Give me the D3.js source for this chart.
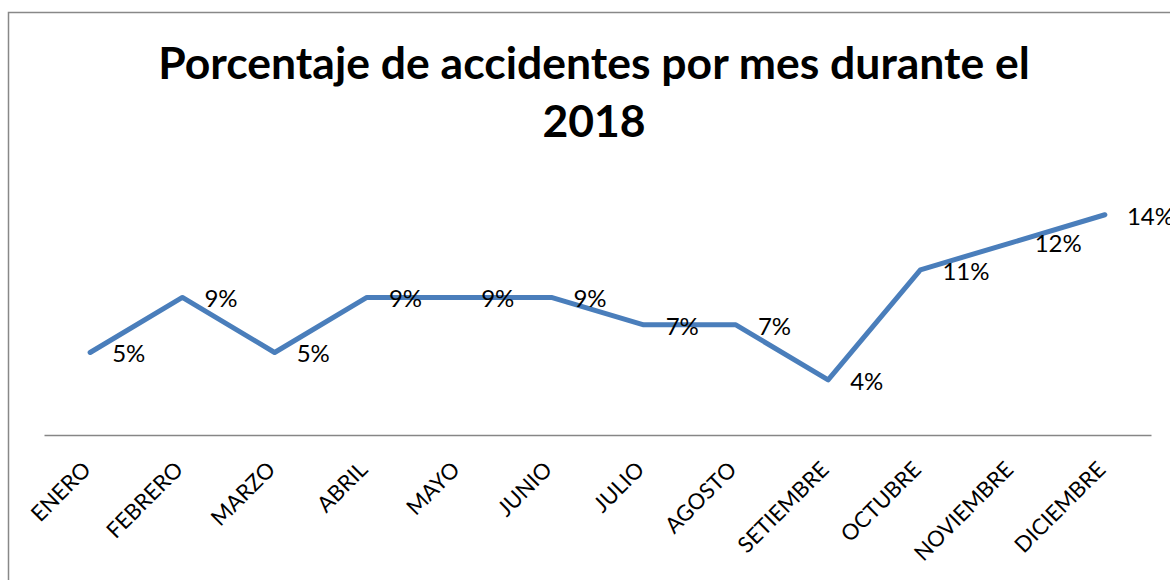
<!DOCTYPE html>
<html>
<head>
<meta charset="utf-8">
<script src="https://cdn.jsdelivr.net/npm/d3@7"></script>
<style>
  body { margin: 0; background: #fff; }
  text { font-family: Lato, "Open Sans", sans-serif; fill: #000; }
</style>
</head>
<body>
<div id="chart-area"></div>
<script>
// months and share of accidents (%)
var months = ['ENERO', 'FEBRERO', 'MARZO', 'ABRIL', 'MAYO', 'JUNIO',
              'JULIO', 'AGOSTO', 'SETIEMBRE', 'OCTUBRE', 'NOVIEMBRE', 'DICIEMBRE'];
var values = [5.26, 8.77, 5.26, 8.77, 8.77, 8.77, 7.02, 7.02, 3.51, 10.53, 12.28, 14.04];
var titleLines = ['Porcentaje de accidentes por mes durante el', '2018'];

var width = 1170, height = 580;

var svg = d3.select('#chart-area')
  .append('svg')
    .attr('width', width)
    .attr('height', height);

// chart border
svg.append('rect')
  .attr('x', 8.5).attr('y', 12.5)
  .attr('width', 1200).attr('height', 600)
  .attr('fill', 'none')
  .attr('stroke', '#888')
  .attr('stroke-width', 1.5);

var data = months.map((m, i) => ({ month: m, value: values[i] }));

let x = d3.scaleBand()
  .domain(months)
  .range([44, 1151]);

let y = d3.scaleLinear()
  .domain([0, 16])
  .range([435, 184]);

let cx = d => x(d.month) + x.bandwidth() / 2;

// title
svg.append('text')
  .attr('x', 594)
  .attr('y', 79)
  .attr('text-anchor', 'middle')
  .attr('font-size', '44.5px')
  .attr('font-weight', 'bold')
  .selectAll('tspan')
  .data(titleLines)
  .enter()
  .append('tspan')
    .attr('x', 594)
    .attr('dy', (d, i) => i ? 58 : 0)
    .text(d => d);

// category axis
let xAxis = d3.axisBottom(x).tickSize(0).tickPadding(0);
let gx = svg.append('g')
  .attr('class', 'x-axis')
  .attr('transform', 'translate(0,' + y(0) + ')')
  .call(xAxis);

gx.select('.domain')
  .attr('stroke', '#868686')
  .attr('stroke-width', 1.5);

gx.selectAll('text')
  .attr('font-size', '22px')
  .attr('font-family', 'Lato, "Open Sans", sans-serif')
  .attr('fill', '#000')
  .attr('text-anchor', 'end')
  .attr('dy', 0)
  .attr('transform', 'translate(2,36) rotate(-45)');

// line
let line = d3.line()
  .x(d => cx(d))
  .y(d => y(d.value));

svg.append('path')
  .datum(data)
  .attr('d', line)
  .attr('fill', 'none')
  .attr('stroke', '#4A7EBB')
  .attr('stroke-width', 5)
  .attr('stroke-linejoin', 'round')
  .attr('stroke-linecap', 'round');

// value labels
let fmt = d3.format('.0%');
svg.selectAll('.lbl')
  .data(data)
  .enter()
  .append('text')
    .attr('class', 'lbl')
    .attr('x', d => cx(d) + 22)
    .attr('y', d => y(d.value) + 10)
    .attr('font-size', '24px')
    .text(d => fmt(d.value / 100));
</script>
</body>
</html>
